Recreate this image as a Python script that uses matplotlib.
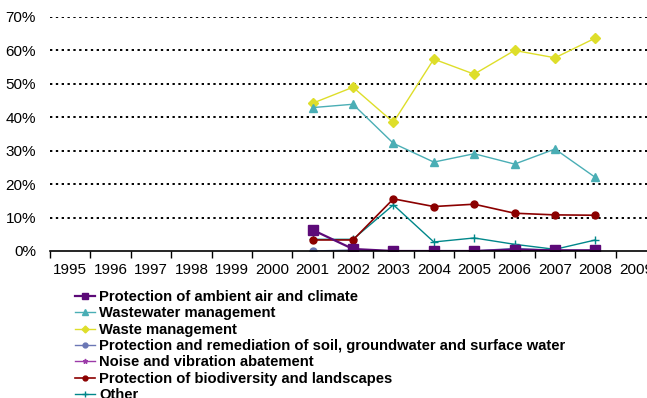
import numpy as np
import matplotlib
matplotlib.use("Agg")
import matplotlib.pyplot as plt
from matplotlib.ticker import FixedLocator, PercentFormatter

plt.rcParams['font.family'] = ['Liberation Sans', 'DejaVu Sans']

years = [str(y) for y in range(1995, 2010)]
data_years = list(range(2001, 2009))

air = [6.3, 0.6, 0.0, 0.0, 0.0, 0.4, 0.2, 0.2]
wastewater = [42.9, 43.9, 32.2, 26.6, 29.1, 26.0, 30.5, 22.0]
waste = [44.2, 49.0, 38.5, 57.4, 52.9, 60.0, 57.8, 63.7]
soil = [0.0, 0.3, 0.0, 0.0, 0.0, 0.8, 0.2, 0.2]
noise = [0.0, 0.0, 0.0, 0.0, 0.0, 0.0, 0.0, 0.0]
biodiversity = [3.3, 3.3, 15.6, 13.3, 14.0, 11.3, 10.8, 10.7]
other = [3.5, 3.5, 13.8, 2.7, 3.9, 2.0, 0.5, 3.3]

series = [
    ("Protection of ambient air and climate", air, "#5c0a78", "s", 6.5, 1.6),
    ("Wastewater management", wastewater, "#4aaeb5", "^", 6, 1.0),
    ("Waste management", waste, "#dede2a", "D", 5, 1.0),
    ("Protection and remediation of soil, groundwater and surface water", soil, "#6b77b5", "o", 5, 1.0),
    ("Noise and vibration abatement", noise, "#9b3aa8", "*", 5, 1.0),
    ("Protection of biodiversity and landscapes", biodiversity, "#8b0000", "o", 5, 1.2),
    ("Other", other, "#00878a", "+", 6, 1.0),
]

W, H = 647, 398
fig = plt.figure(figsize=(W / 100, H / 100), dpi=100)
ax = fig.add_axes([50 / W, 147 / H, 15 * 40.4 / W, 234 / H])

xpos = [years.index(str(y)) for y in data_years]
# draw in reverse so air is on top
handles = {}
for name, vals, col, mk, ms, lw in reversed(series):
    vals = np.array(vals) / 100
    h, = ax.plot(xpos, vals, color=col, marker=mk, markersize=ms, lw=lw,
                 markeredgecolor=col, markerfacecolor=col, label=name)
    handles[name] = h

ax.set_xlim(-0.5, len(years) - 0.5)
ax.set_ylim(0, 0.7)
ax.set_yticks(np.arange(0, 0.71, 0.1))
ax.yaxis.set_major_formatter(PercentFormatter(1.0, decimals=0))
ax.set_xticks(range(len(years)))
ax.set_xticklabels(years)
ax.xaxis.set_minor_locator(FixedLocator(np.arange(-0.5, len(years), 1)))
ax.tick_params(axis='x', which='major', length=0, pad=9, labelsize=11)
ax.tick_params(axis='x', which='minor', length=5, width=1, color='black', direction='out')
ax.tick_params(axis='y', length=0, pad=10, labelsize=11)

for s in ['top', 'right', 'left']:
    ax.spines[s].set_visible(False)
ax.spines['bottom'].set_linewidth(1.2)
ax.yaxis.grid(True, linestyle=(0, (1.2, 1.8)), color='black', lw=1.4)
ax.set_axisbelow(True)
for gl in ax.yaxis.get_gridlines()[:1]:
    gl.set_visible(False)

fig.legend([handles[s[0]] for s in series], [s[0] for s in series],
           loc='upper left', bbox_to_anchor=(75 / W, 1 - 290 / H),
           frameon=False, prop={'weight': 'bold', 'size': 10.6},
           handlelength=1.35, handletextpad=0.3, labelspacing=0.16,
           borderaxespad=0, borderpad=0, markerscale=0.7)

fig.savefig("out.png", dpi=100)
